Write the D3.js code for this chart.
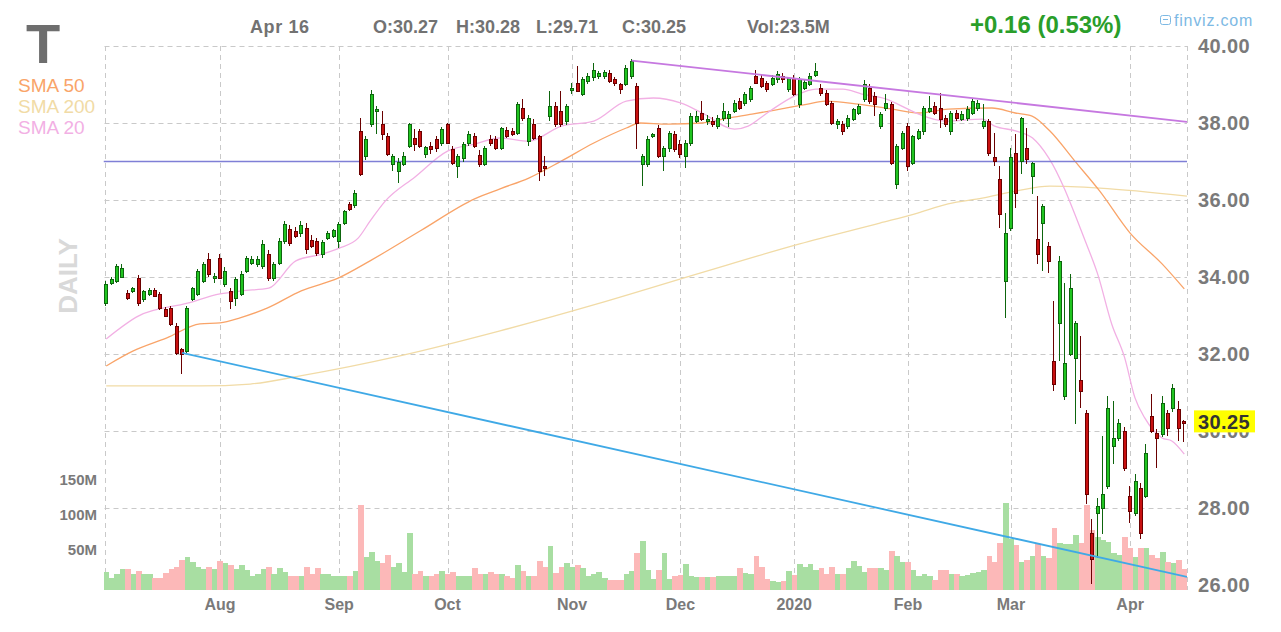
<!DOCTYPE html>
<html><head><meta charset="utf-8">
<script src="https://cdn.jsdelivr.net/npm/d3@7"></script>
<style>body{margin:0;background:#fff}svg{display:block}text{font-family:"Liberation Sans",Arial,sans-serif}</style>
</head><body><svg id="c" width="1281" height="632"></svg>
<script>
// ---------- DATA ----------
const open=[33.32,33.84,33.90,34.00,33.58,33.64,33.97,33.43,33.56,33.66,33.56,33.17,33.19,32.73,32.12,32.08,33.43,33.56,33.90,34.47,
34.00,34.49,33.82,33.64,33.45,33.56,34.16,34.36,34.34,34.29,34.60,33.97,34.36,34.94,35.25,35.19,35.14,35.27,34.96,34.94,
34.60,35.01,35.06,34.94,35.40,35.90,35.87,37.79,37.14,37.97,38.31,37.97,37.66,36.94,36.75,36.94,37.40,37.61,37.79,37.19,
37.40,37.58,37.48,37.97,37.32,36.88,37.09,37.48,37.66,37.17,36.94,37.58,37.58,37.35,37.82,37.80,37.74,38.39,37.53,37.97,
37.66,36.88,38.18,38.44,38.31,38.05,38.86,39.04,38.75,39.09,39.19,39.22,39.22,39.30,39.14,39.01,39.01,39.22,38.96,36.94,
36.94,37.66,37.87,37.14,37.35,37.71,37.45,37.14,37.48,38.05,38.26,38.05,38.05,37.92,38.13,38.13,38.31,38.57,38.52,38.62,
39.22,39.17,39.04,39.01,39.14,39.22,38.88,39.17,38.49,38.91,39.01,39.25,38.91,38.78,38.52,37.97,37.97,37.92,38.10,38.26,
38.62,38.91,38.70,37.92,38.39,38.49,36.42,37.35,37.92,36.96,37.61,37.79,38.31,38.44,38.39,38.13,37.79,38.26,38.10,38.13,
38.26,38.39,37.92,38.05,37.12,36.55,33.90,35.27,37.22,37.01,37.35,36.62,34.99,35.40,34.81,31.82,32.81,30.91,32.00,31.90,
31.32,30.47,27.35,27.87,28.00,28.57,29.61,29.82,30.00,28.31,27.87,28.52,28.31,30.39,29.95,29.92,30.47,30.60,30.57,30.27];
const high=[33.90,34.00,34.34,34.34,33.66,33.75,34.05,33.66,33.72,33.72,33.60,33.22,33.25,32.80,32.15,33.25,33.75,34.20,34.40,34.62,
34.10,34.60,34.25,33.72,34.00,34.15,34.55,34.55,34.55,34.95,34.70,34.40,35.00,35.45,35.35,35.30,35.45,35.40,35.10,35.00,
34.96,35.20,35.25,35.42,35.75,35.95,36.25,38.13,37.65,38.85,38.45,38.31,37.75,37.20,37.10,37.25,38.00,37.84,37.85,37.40,
37.50,37.65,37.90,38.00,37.40,37.20,37.50,37.80,37.75,37.30,37.40,37.70,37.65,37.90,37.90,37.88,38.55,38.62,38.20,38.10,
37.70,37.14,38.83,38.55,38.83,38.50,39.04,39.48,39.20,39.30,39.55,39.35,39.38,39.38,39.20,39.05,39.50,39.65,39.05,37.20,
37.65,37.75,37.95,37.40,37.80,37.80,37.55,37.55,38.25,38.30,38.57,38.20,38.15,38.20,38.52,38.30,38.60,38.65,38.80,38.95,
39.38,39.25,39.10,39.25,39.35,39.30,39.20,39.25,39.20,39.12,39.30,39.55,39.00,38.85,38.57,38.10,38.05,38.20,38.40,38.50,
39.12,39.00,38.80,38.28,38.75,38.55,37.45,37.80,38.00,37.70,37.85,38.45,38.70,38.55,38.78,38.20,38.30,38.35,38.30,38.45,
38.65,38.60,38.49,38.10,37.74,36.88,35.66,37.35,37.71,38.15,37.87,37.00,36.10,35.90,34.90,33.38,34.55,33.84,34.08,32.85,
32.47,30.55,27.71,28.26,29.87,30.91,30.78,30.30,30.10,28.57,28.88,28.65,29.66,30.96,30.05,30.91,30.55,31.22,30.78,30.28];
const low=[33.25,33.80,33.84,33.97,33.40,33.58,33.25,33.35,33.50,33.48,33.15,32.95,32.72,31.98,31.48,32.00,33.38,33.50,33.85,34.00,
33.85,33.95,33.75,33.17,33.25,33.50,34.10,34.30,34.25,34.20,33.90,33.90,34.30,34.85,34.80,35.00,35.05,34.60,34.75,34.55,
34.50,34.95,35.00,34.75,35.35,35.72,35.80,36.62,37.05,37.90,37.71,37.55,37.15,36.75,36.44,36.88,37.35,37.27,37.35,37.10,
37.20,37.25,37.40,37.45,36.90,36.57,37.00,37.40,37.35,36.85,36.88,37.40,37.30,37.30,37.60,37.65,37.70,38.05,37.40,37.55,
36.50,36.62,38.05,37.90,37.90,37.95,38.75,38.80,38.70,39.00,39.10,39.15,39.15,39.05,38.95,38.75,38.95,39.15,37.32,36.36,
36.85,37.60,37.10,36.75,37.25,37.25,37.10,36.83,37.40,38.00,38.05,37.95,37.90,37.85,38.05,37.90,38.25,38.35,38.45,38.55,
39.00,38.90,38.80,38.95,39.05,39.05,38.80,38.70,38.40,38.85,38.95,39.20,38.70,38.45,37.95,37.85,37.70,37.85,38.05,38.20,
38.55,38.50,38.18,37.85,38.30,36.90,36.29,37.30,36.75,36.90,37.55,37.70,38.25,38.20,37.87,37.90,37.70,38.05,38.05,38.05,
38.20,38.30,37.85,37.15,36.88,35.27,32.94,35.20,35.80,36.68,36.94,36.16,34.34,34.16,34.10,31.04,31.82,30.80,31.95,30.18,
30.60,28.10,26.03,26.70,27.32,28.50,29.14,29.75,28.95,27.60,27.80,27.19,28.25,29.95,29.04,29.85,29.87,30.50,29.75,29.71];
const close=[33.82,33.95,34.29,34.23,33.45,33.71,33.32,33.64,33.66,33.51,33.19,32.99,32.78,32.03,32.00,33.19,33.71,34.16,34.34,34.08,
34.03,33.97,34.16,33.38,33.95,34.08,34.49,34.47,34.47,34.86,33.97,34.34,34.94,35.38,34.88,35.06,35.35,34.73,34.81,34.62,
34.91,35.14,35.22,35.38,35.71,35.77,36.18,36.68,37.58,38.75,38.36,37.71,37.19,37.14,37.00,37.14,37.97,37.45,37.40,37.37,
37.32,37.35,37.84,37.48,36.96,37.14,37.45,37.71,37.40,36.94,37.35,37.48,37.35,37.87,37.66,37.71,38.49,38.13,38.13,37.61,
36.75,36.83,38.44,37.97,37.97,38.44,38.90,38.83,39.14,39.22,39.38,39.30,39.32,39.09,39.04,38.88,39.43,39.61,38.00,37.14,
37.58,37.71,37.14,37.35,37.74,37.32,37.19,37.48,38.18,38.18,38.10,38.10,37.97,38.13,38.31,38.23,38.52,38.39,38.75,38.91,
39.04,38.96,38.88,39.17,39.27,39.14,39.17,38.75,39.14,39.06,39.22,39.35,38.78,38.49,38.00,38.05,37.79,38.13,38.36,38.44,
39.01,38.57,38.49,38.23,38.52,36.96,37.40,37.74,36.88,37.66,37.79,38.39,38.39,38.26,38.10,37.97,38.26,38.13,38.23,38.36,
38.57,38.52,38.05,37.22,37.01,35.64,35.14,37.12,36.18,38.13,37.06,36.96,34.60,35.84,34.42,31.22,34.42,31.77,33.71,32.81,
31.04,28.36,26.68,28.05,28.36,30.60,29.82,30.21,29.04,27.92,28.70,27.35,29.43,30.00,29.82,30.73,30.08,31.12,30.09,30.25];
// volume in millions of shares
const volume=[26.4,17.4,22.4,29.9,29.9,22.4,27.4,22.4,22.4,17.4,17.4,25,29.9,33.4,43.3,47.3,39.9,33.4,29.9,33.4,
30,41.3,38.3,36.4,29.9,36.4,28.4,20,23.4,29.9,33.4,22.4,30.9,26,20,20,20,33.4,23.4,30.9,
23.4,23.4,20,20,20,20,27.4,121.7,47.3,54.7,41.3,38.3,49.7,33.4,38.3,26,82,22.4,27.4,20,
20,22.4,27.4,23.4,26,20,20,20,30.9,23.4,23.4,26,23.4,23.4,20,17.4,36.4,27.4,20,20,
41.3,33.4,63.1,25,33.4,38.3,33.4,36.4,30.9,20,23.4,26,17.4,13.6,15,15,23.4,27.4,52.3,70,
28.1,15.6,28.1,53.3,15.6,20.6,21.6,36.7,20.6,18.1,18.1,18.1,18.1,20.6,20.6,20.6,20.6,31.7,24.7,23.1,
48.3,33.1,15.6,13.1,11.6,13.1,26.7,21.6,36.7,33.1,36.7,28.1,31.7,23.1,33.1,23.1,23.1,31.7,41.7,34.7,
25.7,31.7,31.7,31.7,28.1,55.9,48.3,40.7,39.7,28.1,20.6,23.1,20.6,14.6,28.1,28.1,23.1,23.1,20.6,21.6,
24.7,25.7,28.1,48.3,39.7,66.9,123.7,73.4,64.3,40.7,43.3,48.3,65.9,48.3,46,89,67,65.7,65.7,78,
66.7,121.4,85.7,76,71.4,69,52.4,50,76,59.5,47.6,59.5,59.5,50,45.2,54.8,40.5,38,42.9,30];
// moving averages: [bar index, value]
const sma20=[[0,32.39],[6,32.99],[15,33.32],[21,33.56],[25,33.64],[30,33.71],[35,34.42],[40,34.60],[43,34.75],[46.5,35.01],[48.7,35.45],[51.5,35.97],[57,36.6],[63,37.27],[68,37.45],[72.7,37.61],[78,37.53],[84,37.92],[90,38.05],[96,38.57],[101,38.65],[106,38.52],[110,38.26],[116,37.84],[118.5,37.92],[122,38.26],[127,38.70],[131,38.88],[136,38.88],[139.5,38.75],[144,38.62],[148,38.36],[150,38.23],[155,38.05],[161.7,38.10],[164,37.92],[168,37.79],[171,37.61],[174,37.09],[180.7,34.94],[183,34.08],[185.6,32.78],[188,31.90],[189.9,30.86],[191.7,30.34],[194.9,29.82],[196.7,29.74],[199,29.40]];
const sma50=[[0,31.69],[5,32.08],[11.2,32.42],[17.3,32.78],[21,32.81],[24.7,32.94],[29.7,33.19],[36,33.64],[42.8,33.97],[48.7,34.42],[58,35.2],[68,36.03],[72.7,36.29],[78,36.57],[84,37.01],[90,37.48],[96,37.87],[98.5,38.00],[103.7,37.97],[110,38.00],[114.8,38.13],[119.2,38.23],[124.4,38.36],[129.5,38.49],[132.7,38.57],[138.8,38.49],[145,38.36],[150,38.26],[155.4,38.36],[163.5,38.39],[167.8,38.26],[170.9,38.18],[174.2,37.79],[178.8,37.01],[183.4,36.23],[189,35.14],[194.9,34.34],[199,33.69]];
const sma200=[[0,31.17],[17.3,31.17],[26.6,31.22],[35.8,31.43],[54.2,31.95],[72.7,32.60],[91.1,33.32],[109.6,34.10],[128,34.86],[142.8,35.40],[149.3,35.64],[155.4,35.90],[161.7,36.05],[167.8,36.23],[174.2,36.36],[183.4,36.31],[199.5,36.10]];
const monthTicks=[["Aug",21],["Sep",43],["Oct",63],["Nov",86],["Dec",106],["2020",127],["Feb",148],["Mar",167],["Apr",189]];
const priceTicks=[40,38,36,34,32,30,28,26];
const volTicks=[50,100,150];
const hLevel=37.00;
const trendLines=[{i1:97,p1:39.62,i2:199.5,p2:38.03,color:"#c678e0"},{i1:14,p1:32.03,i2:199.5,p2:26.21,color:"#3fa9e6"}];
const header={date:"Apr 16",o:"O:30.27",h:"H:30.28",l:"L:29.71",c:"C:30.25",vol:"Vol:23.5M",chg:"+0.16 (0.53%)",last:30.25};
const legend=[["SMA 50","#f9a469"],["SMA 200","#f1dba6"],["SMA 20","#f2b0e4"]];

// ---------- CHART ----------
const svg=d3.select("#c");
const P={left:103.5,right:1187,top:46,bottom:590};
const x=d3.scaleLinear().domain([-0.5,199.5]).range([P.left,P.right]);
const y=d3.scaleLinear().domain([26,40]).range([585,46]);
const yv=d3.scaleLinear().domain([0,150]).range([590,485]);
const step=x(1)-x(0);
const grey="#7a7a7a";

svg.append("defs").append("clipPath").attr("id","clip").append("rect")
  .attr("x",P.left).attr("y",P.top-2).attr("width",P.right-P.left).attr("height",P.bottom-P.top+2);

const grid=svg.append("g").attr("stroke","#c9c9c9").attr("stroke-dasharray","5,4").attr("stroke-width",1);
priceTicks.forEach(p=>{const yy=Math.round(y(p))+0.5;grid.append("line").attr("x1",P.left+1).attr("x2",P.right).attr("y1",yy).attr("y2",yy);});
monthTicks.forEach(m=>{const xx=Math.round(x(m[1]))+0.5;grid.append("line").attr("x1",xx).attr("x2",xx).attr("y1",P.top).attr("y2",P.bottom);});
grid.append("line").attr("x1",105.5).attr("x2",105.5).attr("y1",P.top).attr("y2",P.bottom);
grid.append("line").attr("x1",P.right+0.5).attr("x2",P.right+0.5).attr("y1",P.top).attr("y2",P.bottom);

const plotG=svg.append("g").attr("clip-path","url(#clip)");
// volume
plotG.append("g").selectAll("rect").data(volume).join("rect")
  .attr("x",(d,i)=>x(i)-step/2).attr("width",step+0.3)
  .attr("y",d=>yv(d)).attr("height",d=>P.bottom-yv(d))
  .attr("fill",(d,i)=>close[i]>=open[i]?"#a8dea2":"#fcb8b8")
  .attr("shape-rendering","crispEdges");

// moving averages
const line=d3.line().x(d=>x(d[0])).y(d=>y(d[1])).curve(d3.curveMonotoneX);
[[sma200,legend[1][1]],[sma50,legend[0][1]],[sma20,legend[2][1]]].forEach(s=>{
  plotG.append("path").attr("d",line(s[0])).attr("fill","none").attr("stroke",s[1]).attr("stroke-width",1.3);
});
// horizontal level
plotG.append("line").attr("x1",P.left).attr("x2",P.right).attr("y1",y(hLevel)).attr("y2",y(hLevel))
  .attr("stroke","#7f7fd6").attr("stroke-width",1.3);

// candles
const cg=plotG.append("g").attr("shape-rendering","crispEdges");
d3.range(open.length).forEach(i=>{
  const up=close[i]>=open[i];
  const dark=up?"#0d650d":"#6a0000", fill=up?"#20c420":"#c81010";
  const cx=Math.round(x(i));
  const yt=Math.round(y(Math.max(open[i],close[i]))), yb=Math.max(yt+2,Math.round(y(Math.min(open[i],close[i]))));
  cg.append("rect").attr("x",cx-1).attr("width",1).attr("y",Math.round(y(high[i]))).attr("height",Math.max(1,Math.round(y(low[i]))-Math.round(y(high[i])))).attr("fill",dark);
  cg.append("rect").attr("x",cx-2).attr("width",4).attr("y",yt).attr("height",yb-yt+1).attr("fill",dark);
  if(yb-yt>1) cg.append("rect").attr("x",cx-1).attr("width",2).attr("y",yt+1).attr("height",yb-yt-1).attr("fill",fill);
});

// trend lines
trendLines.forEach(t=>{
  plotG.append("line").attr("x1",x(t.i1)).attr("y1",y(t.p1)).attr("x2",x(t.i2)).attr("y2",y(t.p2))
    .attr("stroke",t.color).attr("stroke-width",1.8);
});

// right price axis
const ax=svg.append("g").attr("font-size",20).attr("font-weight","bold").attr("fill",grey).attr("letter-spacing","0.4");
priceTicks.forEach(p=>ax.append("text").attr("x",1198).attr("y",y(p)).attr("dy","0.36em").text(p.toFixed(2)));
const ly=y(header.last);
svg.append("rect").attr("x",1194).attr("y",ly-11).attr("width",61).attr("height",22).attr("fill","#ffff00");
svg.append("text").attr("x",1198).attr("y",ly).attr("dy","0.36em").attr("font-size",20).attr("letter-spacing","0.4").attr("font-weight","bold").attr("fill","#333").text(header.last.toFixed(2));

// volume axis
const vax=svg.append("g").attr("font-size",15).attr("font-weight","bold").attr("fill",grey).attr("text-anchor","end");
volTicks.forEach(v=>vax.append("text").attr("x",97).attr("y",yv(v)).text(v+"M"));

// month labels
const mx=svg.append("g").attr("font-size",16).attr("font-weight","bold").attr("fill",grey).attr("text-anchor","middle");
monthTicks.forEach(m=>mx.append("text").attr("x",x(m[1])).attr("y",610).text(m[0]));

// header
const hd=svg.append("g").attr("font-size",18).attr("font-weight","bold").attr("fill","#727272");
hd.append("text").attr("x",250).attr("y",33).attr("letter-spacing","0.6").text(header.date);
hd.append("text").attr("x",373).attr("y",33).text(header.o);
hd.append("text").attr("x",456).attr("y",33).text(header.h);
hd.append("text").attr("x",536).attr("y",33).text(header.l);
hd.append("text").attr("x",622).attr("y",33).text(header.c);
hd.append("text").attr("x",747).attr("y",33).text(header.vol);
svg.append("text").attr("x",970).attr("y",33).attr("font-size",24).attr("font-weight","bold").attr("fill","#2a9e2a").text(header.chg);
const fz=svg.append("g");
fz.append("rect").attr("x",1160.5).attr("y",15.5).attr("width",10).attr("height",9).attr("rx",2).attr("fill","none").attr("stroke","#7db9e4");
fz.append("line").attr("x1",1163).attr("x2",1168).attr("y1",19.5).attr("y2",19.5).attr("stroke","#7db9e4");
fz.append("text").attr("x",1174).attr("y",26).attr("font-size",16).attr("letter-spacing","0.8").attr("fill","#7db9e4").text("finviz.com");

// ticker + legend
svg.append("text").attr("x",26).attr("y",63).attr("font-size",56).attr("font-weight","bold").attr("fill","#6e6e6e").text("T");
legend.forEach((l,k)=>svg.append("text").attr("x",18).attr("y",92+k*21).attr("font-size",19).attr("fill",l[1]).text(l[0]));
svg.append("text").attr("transform","translate(68,276) rotate(-90)").attr("text-anchor","middle").attr("dy","0.36em")
  .attr("font-size",26).attr("font-weight","bold").attr("fill","#d9d9d9").text("DAILY");
</script></body></html>
